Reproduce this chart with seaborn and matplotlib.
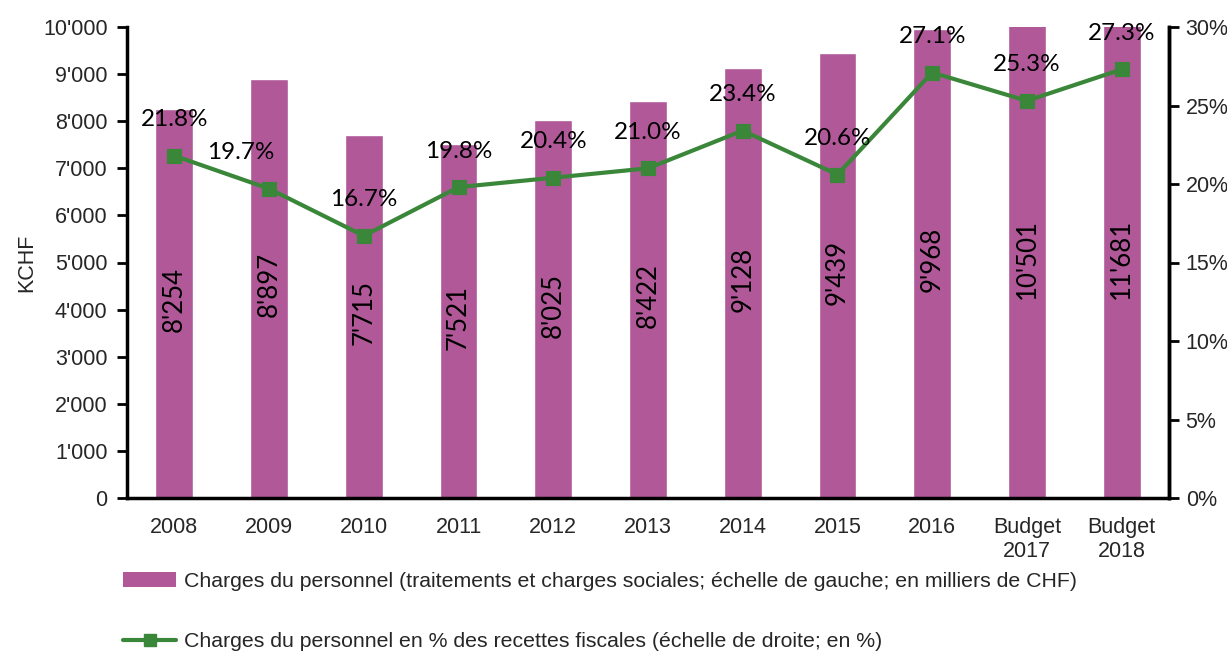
import numpy as np
import pandas as pd
import matplotlib
matplotlib.use("Agg")
import matplotlib.pyplot as plt
from matplotlib.patches import Patch
from matplotlib.lines import Line2D
import seaborn as sns

# Data
categories = ["2008", "2009", "2010", "2011", "2012", "2013", "2014", "2015", "2016",
              "Budget\n2017", "Budget\n2018"]
charges = [8254, 8897, 7715, 7521, 8025, 8422, 9128, 9439, 9968, 10501, 11681]
pct_recettes = [21.8, 19.7, 16.7, 19.8, 20.4, 21.0, 23.4, 20.6, 27.1, 25.3, 27.3]

bar_color = "#B05898"
line_color = "#3A873A"

sns.set_style("white")
plt.rcParams["font.family"] = ["Liberation Sans", "DejaVu Sans"]

df = pd.DataFrame({"cat": categories, "charges": charges, "pct": pct_recettes})

fig = plt.figure(figsize=(12.27, 6.55), dpi=100)
ax = fig.add_axes([127 / 1227, 1 - 498 / 655, (1169 - 127) / 1227, (498 - 27) / 655])

sns.barplot(data=df, x="cat", y="charges", color=bar_color, width=0.4,
            saturation=1, ax=ax)
ax.set_ylim(0, 10000)
ax.set_xlim(-0.5, len(categories) - 0.5)
ax.set_yticks(np.arange(0, 10001, 1000))
ax.set_yticklabels([f"{v:,}".replace(",", "'") for v in range(0, 10001, 1000)],
                   fontsize=15.5)
ax.set_xlabel("")
ax.set_ylabel("KCHF", fontsize=15.5, labelpad=4)

# bar value labels (rotated, centred in the visible part of the bar)
for i, v in enumerate(charges):
    ax.text(i, min(v, 10000) / 2 + 80, f"{v:,}".replace(",", "'"), rotation=90,
            ha="center", va="center", fontsize=18.5, family="Lato", color="black")

# x ticks: labels at centres, tick marks at boundaries
ax.set_xticks(range(len(categories)))
ax.set_xticklabels(categories, fontsize=15.5, linespacing=1.15)
ax.set_xticks(np.arange(-0.5, len(categories), 1), minor=True)
ax.tick_params(axis="x", which="major", length=0, pad=14)
ax.tick_params(axis="x", which="minor", length=7, width=2, direction="out",
               color="black")
ax.tick_params(axis="y", length=7, width=2, direction="out", color="black", pad=7)

ax.spines["top"].set_visible(False)
for s in ["left", "bottom", "right"]:
    ax.spines[s].set_linewidth(2.5)
    ax.spines[s].set_color("black")

# right axis: percentage line
ax2 = ax.twinx()
sns.pointplot(data=df, x="cat", y="pct", color=line_color, markers="s",
              linewidth=3, markersize=9, ax=ax2)
ax2.set_ylim(0, 30)
ax2.set_xlim(-0.5, len(categories) - 0.5)
ax2.set_yticks(np.arange(0, 31, 5))
ax2.set_yticklabels([f"{v}%" for v in range(0, 31, 5)], fontsize=15.5)
ax2.set_ylabel("")
ax2.set_xlabel("")
ax2.tick_params(axis="y", length=7, width=2, direction="out", color="black", pad=5)
for s in ["top", "left", "bottom"]:
    ax2.spines[s].set_visible(False)
ax2.spines["right"].set_linewidth(2.5)
ax2.spines["right"].set_color("black")

x_shift = [0, -0.3, 0, 0, 0, 0, 0, 0, 0, 0, 0]
for i, p in enumerate(pct_recettes):
    ax2.annotate(f"{p:.1f}%", (i + x_shift[i], p), xytext=(0, 36),
                 textcoords="offset pixels",
                 ha="center", va="center", fontsize=17.5, family="Lato",
                 color="black")

handles = [
    Patch(facecolor=bar_color, edgecolor="none"),
    Line2D([0], [0], color=line_color, linewidth=3, marker="s", markersize=9),
]
labels = [
    "Charges du personnel (traitements et charges sociales; échelle de gauche; en milliers de CHF)",
    "Charges du personnel en % des recettes fiscales (échelle de droite; en %)",
]
fig.legend(handles, labels, loc="upper left", bbox_to_anchor=(123 / 1227, 1 - 572 / 655),
           frameon=False, fontsize=15.3, handlelength=2.5, handletextpad=0.35,
           labelspacing=1.95, borderpad=0, borderaxespad=0)

fig.savefig("out.png", dpi=100)
